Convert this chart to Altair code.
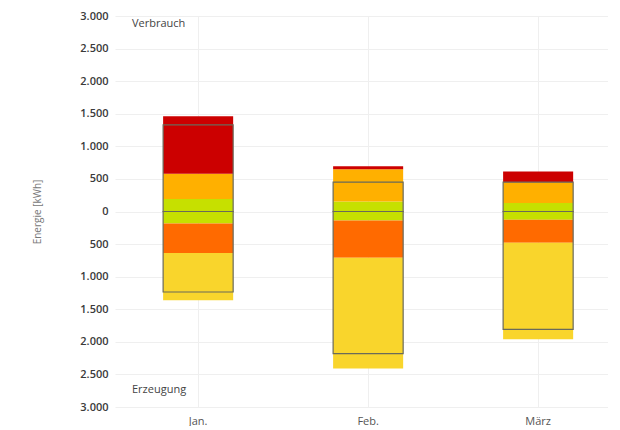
import altair as alt
import pandas as pd

months = ["Jan.", "Feb.", "März"]

# Verbrauch (positive), stacked from 0 upward
cons_green = [190, 155, 130]
cons_amber = [390, 495, 320]
cons_red = [880, 45, 165]

# Erzeugung (negative), stacked from 0 downward
gen_green = [-185, -140, -125]
gen_orange = [-450, -570, -355]
gen_yellow = [-725, -1700, -1480]

# outline boxes
box_top = [1330, 450, 450]
box_bottom = [-1235, -2180, -1810]

series_names = ["V_grün", "V_gelb", "V_rot", "E_grün", "E_orange", "E_gelb"]
series_colors = ["#c6e000", "#ffb000", "#cc0000", "#c6e000", "#ff6a00", "#f9d52c"]
series_values = [cons_green, cons_amber, cons_red, gen_green, gen_orange, gen_yellow]
series_order = [1, 2, 3, 1, 2, 3]

y_ticks = [-3000, -2500, -2000, -1500, -1000, -500, 0, 500, 1000, 1500, 2000, 2500, 3000]

rows = []
for name, vals, o in zip(series_names, series_values, series_order):
    for m, v in zip(months, vals):
        rows.append({"Monat": m, "Serie": name, "Wert": v, "ord": o})
df = pd.DataFrame(rows)

box_rows = []
for m, t, b in zip(months, box_top, box_bottom):
    box_rows.append({"Monat": m, "y1": 0, "y2": t})
    box_rows.append({"Monat": m, "y1": b, "y2": 0})
df_box = pd.DataFrame(box_rows)

ann_text = ["Verbrauch", "Erzeugung"]
ann_y = [2870, -2740]
df_ann = pd.DataFrame({"t": ann_text, "y": ann_y})

font = "Open Sans"

xscale = alt.Scale(domain=months, paddingInner=0.588, paddingOuter=0.244, align=0.58)
yscale = alt.Scale(domain=[-3000, 3000], nice=False)

xaxis = alt.Axis(title=None, labelAngle=0, ticks=False, domain=False,
                 grid=True, gridColor="#efefef", labelColor="#555",
                 labelFontSize=11, labelFont=font, labelPadding=8)

yaxis = alt.Axis(title="Energie [kWh]", values=y_ticks,
                 labelExpr="replace(format(abs(datum.value), ',d'), ',', '.')",
                 labelOverlap=False,
                 ticks=False, domain=False, gridColor="#efefef",
                 labelColor="#3a3a3a", labelFontSize=11, labelFont=font,
                 labelFontWeight=600, labelPadding=7,
                 titleColor="#777", titleFontSize=10, titleFont=font,
                 titleFontWeight="normal", titlePadding=37)

bars = alt.Chart(df).mark_bar().encode(
    x=alt.X("Monat:N", scale=xscale, sort=months, axis=xaxis),
    y=alt.Y("Wert:Q", stack="zero", scale=yscale, axis=yaxis),
    color=alt.Color("Serie:N", scale=alt.Scale(domain=series_names, range=series_colors), legend=None),
    order=alt.Order("ord:Q"),
)

boxes = alt.Chart(df_box).mark_bar(filled=False, stroke="#6a6a5a", strokeWidth=1.2).encode(
    x=alt.X("Monat:N", scale=xscale, sort=months, axis=xaxis),
    y=alt.Y("y1:Q", scale=yscale, axis=yaxis),
    y2="y2:Q",
)

ann = alt.Chart(df_ann).mark_text(align="left", baseline="middle", font=font,
                                   fontSize=11, color="#444").encode(
    x=alt.value(17),
    y=alt.Y("y:Q", scale=yscale, axis=yaxis),
    text="t:N",
)

chart = alt.layer(bars, boxes, ann).properties(
    width=493, height=391,
    padding={"left": 24, "top": 2, "right": 0, "bottom": 0},
).configure_view(stroke=None)

chart.save("out.html", embed_options={"renderer": "svg", "actions": False})
